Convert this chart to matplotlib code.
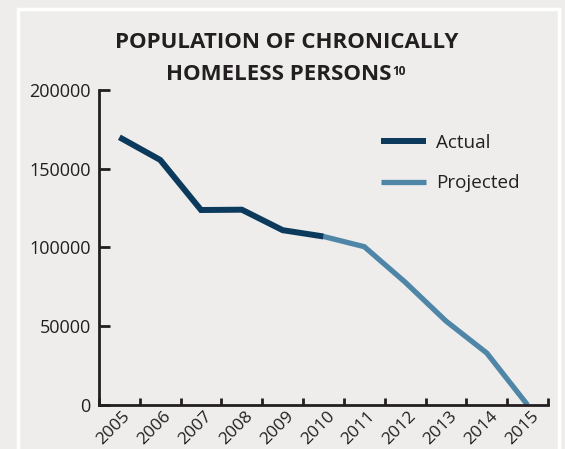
import matplotlib
matplotlib.use('Agg')
import matplotlib.pyplot as plt
import matplotlib.transforms as mtransforms
from matplotlib.patches import Rectangle

years = ['2005', '2006', '2007', '2008', '2009', '2010',
         '2011', '2012', '2013', '2014', '2015']
actual = [170000, 155600, 123800, 124000, 111000, 107000]
projected = [107000, 100500, 78000, 53300, 33000, 0]

dark = '#0b3a5c'
light = '#4f86a7'
ink = '#231f20'
bg = '#eeedeb'

plt.rcParams['font.family'] = ['Open Sans', 'DejaVu Sans']

fig = plt.figure(figsize=(5.65, 4.49), dpi=100, facecolor=bg)
ax = fig.add_axes([99 / 565, 1 - 405 / 449, 449 / 565, 315 / 449])
ax.set_facecolor(bg)

# white frame around the panel
fig.patches.append(Rectangle((18 / 565, -0.05), 541 / 565, 1.05 - 9 / 449,
                             transform=fig.transFigure, fill=False,
                             edgecolor='white', linewidth=2.5))

x_act = list(range(len(actual)))
x_proj = list(range(len(actual) - 1, len(years)))
ax.plot(x_act, actual, color=dark, lw=4.3, solid_capstyle='butt',
        solid_joinstyle='miter', label='Actual', zorder=3)
ax.plot(x_proj, projected, color=light, lw=3.8, solid_capstyle='butt',
        solid_joinstyle='miter', label='Projected', zorder=2)

ax.set_xlim(-0.5, len(years) - 0.5)
ax.set_ylim(0, 200000)
for s in ['top', 'right']:
    ax.spines[s].set_visible(False)
for s in ['left', 'bottom']:
    ax.spines[s].set_linewidth(2)
    ax.spines[s].set_color(ink)

ax.set_yticks([0, 50000, 100000, 150000, 200000])
ax.tick_params(axis='y', direction='in', length=8, width=2, color=ink,
               labelsize=13, labelcolor=ink, pad=6)

ax.set_xticks(range(len(years)))
ax.set_xticklabels(years, rotation=45, ha='right', rotation_mode='anchor')
ax.set_xticks([i - 0.5 for i in range(len(years) + 1)], minor=True)
ax.tick_params(axis='x', which='major', length=0, labelsize=12.5,
               labelcolor=ink, pad=2.5)
ax.tick_params(axis='x', which='minor', direction='in', length=5, width=2,
               color=ink)
shift = mtransforms.ScaledTranslation(3 / 100, 0, fig.dpi_scale_trans)
for lab in ax.get_xticklabels():
    lab.set_transform(lab.get_transform() + shift)

ax.legend(loc='upper left', bbox_to_anchor=(0.59, 0.915), frameon=False,
          fontsize=13.6, handlelength=2.4, handletextpad=0.5,
          labelspacing=1.2, labelcolor=ink)

fig.text(287 / 565, 1 - 42 / 449, 'POPULATION OF CHRONICALLY', ha='center',
         va='center', fontsize=16, fontweight='bold', color=ink)
t2 = fig.text(279 / 565, 1 - 74.5 / 449, 'HOMELESS PERSONS', ha='center',
              va='center', fontsize=16, fontweight='bold', color=ink)
fig.canvas.draw()
bb = t2.get_window_extent()
fig.text((bb.x1 + 0.5) / 565, (bb.y1 - 1) / 449, '10', ha='left', va='top',
         fontsize=8.5, fontweight='bold', color=ink)

fig.savefig('out.png', dpi=100, facecolor=bg)
